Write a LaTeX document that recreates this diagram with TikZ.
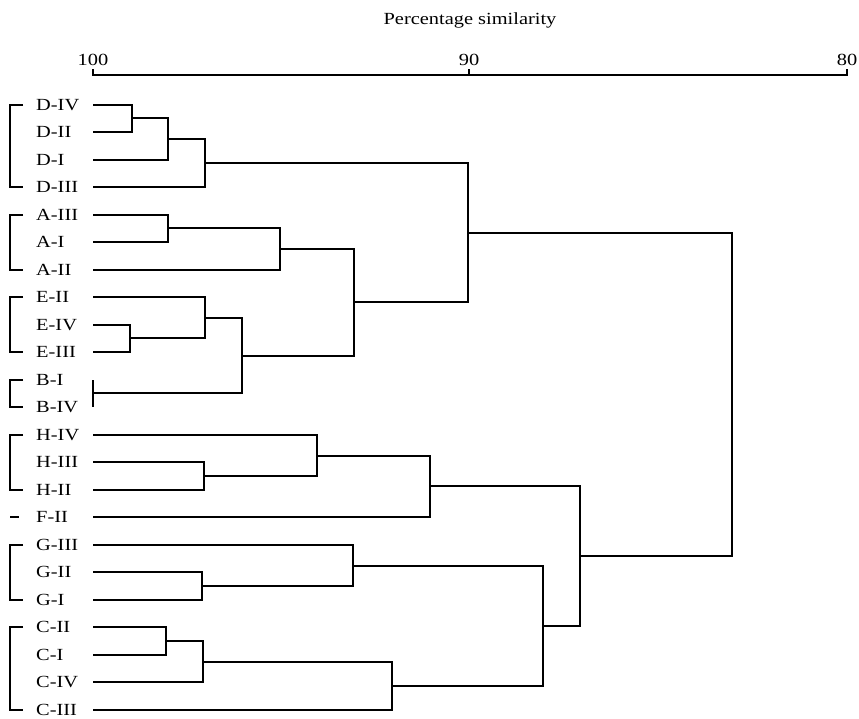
\documentclass[tikz,border=0pt]{standalone}
\usepackage{fontspec}
\setmainfont{Liberation Serif}[FakeStretch=1.2]
\begin{document}
\begin{tikzpicture}[x=1pt,y=-1pt,
  br/.style={line width=2pt},
  brk/.style={line width=1.2pt},
  axisline/.style={line width=1.6pt},
  lab/.style={anchor=base west, inner sep=0pt, font=\fontsize{17}{20}\selectfont},
  num/.style={anchor=base, inner sep=0pt, font=\fontsize{17}{20}\selectfont}]
\useasboundingbox (0,0) rectangle (859,718);
% axis
\coordinate (a100) at (93,75);
\coordinate (a90) at (469,75);
\coordinate (a80) at (847,75);
\draw[axisline] (a100) ++(0,-6) -- (a100) -- (a80) -- ++(0,-6);
\draw[axisline] (a90) -- ++(0,-6);
\node[num] (n100) at (93,65) {100};
\node[num] (n90) at (469,65) {90};
\node[num] (n80) at (847,65) {80};
\node[num] (title) at (470,24) {Percentage similarity};
% leaves
\foreach \n/\t/\y in {D4/D-IV/105, D2/D-II/132, D1/D-I/160, D3/D-III/187,
  A3/A-III/215, A1/A-I/242, A2/A-II/270, E2/E-II/297, E4/E-IV/325, E3/E-III/352,
  B1/B-I/380, B4/B-IV/407, H4/H-IV/435, H3/H-III/462, H2/H-II/490, F2/F-II/517,
  G3/G-III/545, G2/G-II/572, G1/G-I/600, C2/C-II/627, C1/C-I/655, C4/C-IV/682, C3/C-III/710} {
  \coordinate (l\n) at (93,\y);
  \node[lab] (t\n) at (36,\y+5.6) {\t};
}
% merge points
\coordinate (mD1) at (132,118);
\coordinate (mD2) at (168,139);
\coordinate (mD3) at (205,163);
\coordinate (mA1) at (168,228);
\coordinate (mA2) at (280,249);
\coordinate (mE1) at (130,338);
\coordinate (mE2) at (205,318);
\coordinate (mB) at (93,393);
\coordinate (mEB) at (242,356);
\coordinate (mAEB) at (354,302);
\coordinate (mTop) at (468,233);
\coordinate (mH1) at (204,476);
\coordinate (mH2) at (317,456);
\coordinate (mHF) at (430,486);
\coordinate (mG1) at (202,586);
\coordinate (mG2) at (353,566);
\coordinate (mC1) at (166,641);
\coordinate (mC2) at (203,662);
\coordinate (mC3) at (392,686);
\coordinate (mGC) at (543,626);
\coordinate (mBot) at (580,556);
\coordinate (mRoot) at (732,395);
% D
\draw[br] (lD4) -| (mD1); \draw[br] (lD2) -| (mD1);
\draw[br] (mD1) -| (mD2); \draw[br] (lD1) -| (mD2);
\draw[br] (mD2) -| (mD3); \draw[br] (lD3) -| (mD3);
\draw[br] (mD3) -| (mTop);
% A
\draw[br] (lA3) -| (mA1); \draw[br] (lA1) -| (mA1);
\draw[br] (mA1) -| (mA2); \draw[br] (lA2) -| (mA2);
\draw[br] (mA2) -| (mAEB);
% E
\draw[br] (lE4) -| (mE1); \draw[br] (lE3) -| (mE1);
\draw[br] (lE2) -| (mE2); \draw[br] (mE1) -| (mE2);
\draw[br] (mE2) -| (mEB);
% B
\draw[br] (lB1) -- (lB4);
\draw[br] (mB) -| (mEB);
\draw[br] (mEB) -| (mAEB);
\draw[br] (mAEB) -| (mTop);
\draw[br] (mTop) -| (mRoot);
% H, F
\draw[br] (lH3) -| (mH1); \draw[br] (lH2) -| (mH1);
\draw[br] (lH4) -| (mH2); \draw[br] (mH1) -| (mH2);
\draw[br] (mH2) -| (mHF); \draw[br] (lF2) -| (mHF);
\draw[br] (mHF) -| (mBot);
% G
\draw[br] (lG2) -| (mG1); \draw[br] (lG1) -| (mG1);
\draw[br] (lG3) -| (mG2); \draw[br] (mG1) -| (mG2);
\draw[br] (mG2) -| (mGC);
% C
\draw[br] (lC2) -| (mC1); \draw[br] (lC1) -| (mC1);
\draw[br] (mC1) -| (mC2); \draw[br] (lC4) -| (mC2);
\draw[br] (mC2) -| (mC3); \draw[br] (lC3) -| (mC3);
\draw[br] (mC3) -| (mGC);
\draw[br] (mGC) -| (mBot);
\draw[br] (mBot) -| (mRoot);
% group brackets
\draw[brk] (23,105) -- (10,105) -- (10,187) -- (23,187);
\draw[brk] (23,215) -- (10,215) -- (10,270) -- (23,270);
\draw[brk] (23,297) -- (10,297) -- (10,352) -- (23,352);
\draw[brk] (23,380) -- (10,380) -- (10,407) -- (23,407);
\draw[brk] (23,435) -- (10,435) -- (10,490) -- (23,490);
\draw[brk] (10,517) -- (19,517);
\draw[brk] (23,545) -- (10,545) -- (10,600) -- (23,600);
\draw[brk] (23,627) -- (10,627) -- (10,710) -- (23,710);
\end{tikzpicture}
\end{document}
